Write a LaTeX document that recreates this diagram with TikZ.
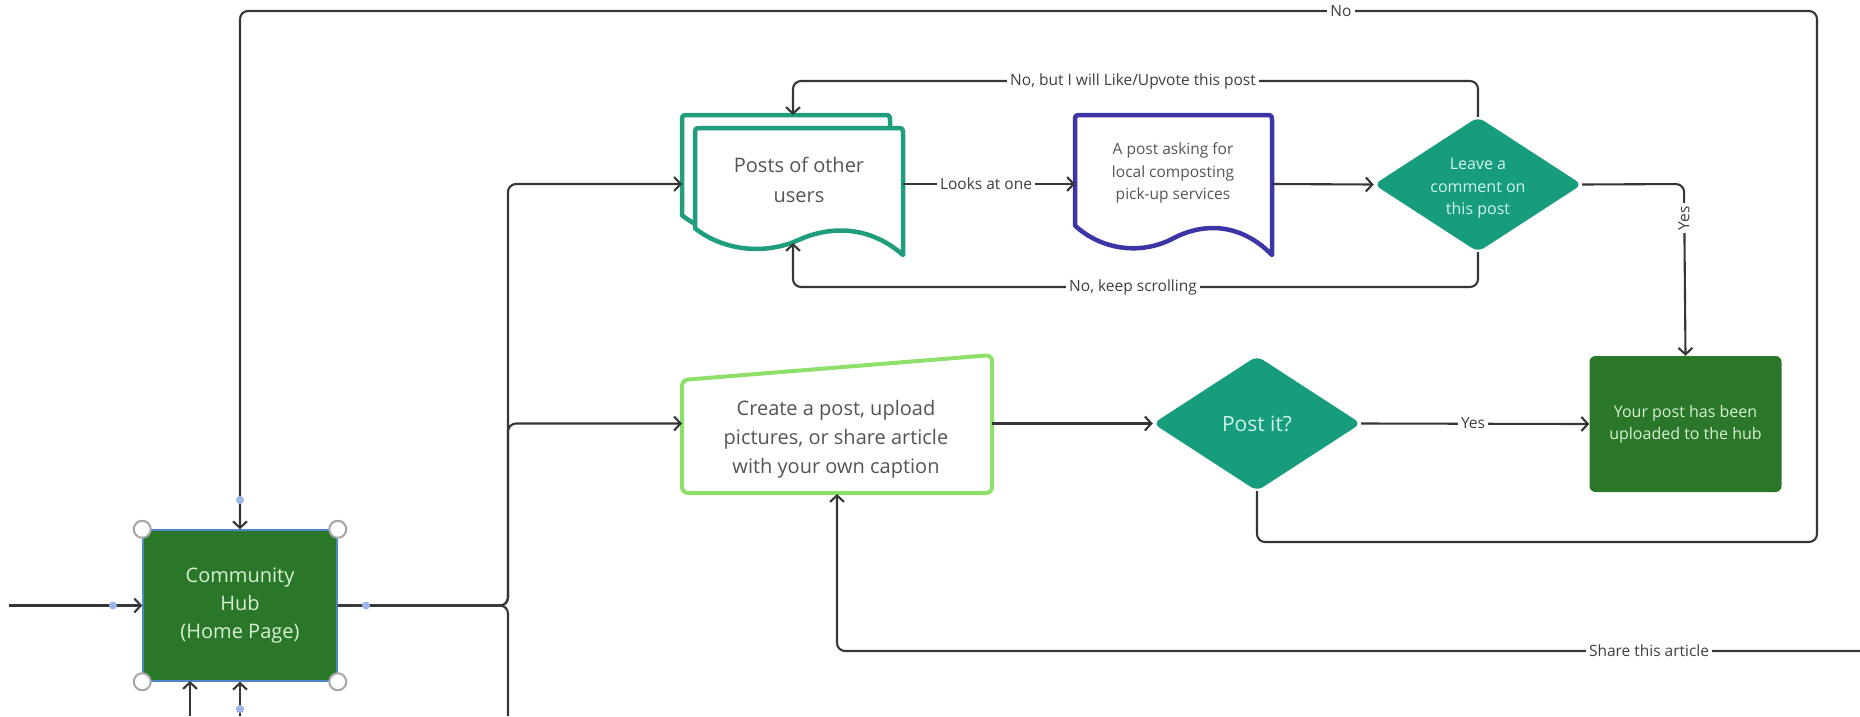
\documentclass[tikz,border=0pt]{standalone}
\usepackage{fontspec}
\setmainfont{Open Sans}
\usetikzlibrary{arrows.meta,shapes.geometric}
\definecolor{teal1}{HTML}{179C7E}
\definecolor{tealline}{HTML}{1F9D7D}
\definecolor{indig}{HTML}{3C35A6}
\definecolor{lgreen}{HTML}{8FE06B}
\definecolor{dgreen}{HTML}{2A772A}
\definecolor{conncol}{HTML}{363636}
\definecolor{lblcol}{HTML}{3F3F3F}
\definecolor{boxtxt}{HTML}{555555}
\definecolor{lighttxt}{HTML}{D8F0D2}
\definecolor{minttxt}{HTML}{D0F4E9}
\definecolor{selblue}{HTML}{4F86C6}
\definecolor{dotblue}{HTML}{9CB4EA}
\begin{document}
\begin{tikzpicture}[x=1pt,y=-1pt,
  conn/.style={draw=conncol, line width=2.1pt, rounded corners=8pt, -{Straight Barb[length=6.5pt,width=14pt]}},
  plainline/.style={draw=conncol, line width=2.1pt, rounded corners=8pt},
  lab/.style={fill=white, text=lblcol, font=\fontsize{15.5}{18}\selectfont, inner sep=3pt},
  doctext/.style={text=boxtxt, align=center, inner sep=0pt},
  dia/.style={diamond, fill=teal1, draw=none, shape aspect=1.54, minimum width=208pt, minimum height=135pt, inner sep=0pt, rounded corners=7pt, text=minttxt, align=center},
  diatext/.style={text=minttxt, align=center, inner sep=0pt},
  greenbox/.style={rectangle, fill=dgreen, text=lighttxt, align=center, inner sep=0pt},
  handle/.style={circle, fill=white, draw=gray!70, line width=2pt, minimum size=17pt, inner sep=0pt},
  bluedot/.style={circle, fill=dotblue, draw=none, minimum size=8pt, inner sep=0pt}]
\useasboundingbox (0,0) rectangle (1860,716);

% ---- shapes ----
% back document
\filldraw[fill=white, draw=tealline, line width=4.5pt, line join=round]
 (682,215.3) -- (682,122) .. controls (682,115) .. (689,115) -- (883,115) .. controls (890,115) .. (890,122) -- (890,242)
 .. controls (852.6,209) and (811,215.3) .. (786,226.8)
 .. controls (752.7,242) and (711.1,238.2) .. (682,215.3) -- cycle;
% front document
\filldraw[fill=white, draw=tealline, line width=4.5pt, line join=round]
 (695,228.3) -- (695,135) .. controls (695,128) .. (702,128) -- (896,128) .. controls (903,128) .. (903,135) -- (903,255)
 .. controls (865.6,222) and (824,228.3) .. (799,239.8)
 .. controls (765.7,255) and (724.1,251.2) .. (695,228.3) -- cycle;
\node[doctext, font=\fontsize{20}{30}\selectfont] (posts) at (799,180) {Posts of other\\users};
% request document
\filldraw[fill=white, draw=indig, line width=4.5pt, line join=round]
 (1075,225.6) -- (1075,122) .. controls (1075,115) .. (1082,115) -- (1265,115) .. controls (1272,115) .. (1272,122) -- (1272,255)
 .. controls (1236.5,218.6) and (1197.1,225.6) .. (1173.5,238.2)
 .. controls (1142,255) and (1102.6,250.8) .. (1075,225.6) -- cycle;
\node[doctext, font=\fontsize{15.5}{22.5}\selectfont] (req) at (1173,173) {A post asking for\\local composting\\pick-up services};
% create (manual input)
\filldraw[fill=white, draw=lgreen, line width=4pt, rounded corners=6pt] (682,380) -- (992,355) -- (992,493) -- (682,493) -- cycle;
\node[doctext, font=\fontsize{20}{29}\selectfont] (create) at (836,439) {Create a post, upload\\pictures, or share article\\with your own caption};
% diamonds
\node[dia] (leave) at (1478,184.5) {};
\node[diatext, font=\fontsize{16}{22.5}\selectfont] (leavetext) at (1478,188.5) {Leave a\\comment on\\this post};
\node[dia, font=\fontsize{21}{25}\selectfont] (postit) at (1257,423.5) {Post it?};
% green boxes
\node[greenbox, rounded corners=6pt, minimum width=192pt, minimum height=136pt, font=\fontsize{16}{22}\selectfont] (done) at (1685.5,424) {Your post has been\\uploaded to the hub};
\node[greenbox, draw=selblue, line width=1.5pt, minimum width=194pt, minimum height=151pt, font=\fontsize{20}{28}\selectfont] (hub) at (240,605.5) {Community\\Hub\\(Home Page)};

% ---- coordinates ----
\coordinate (inL) at (9,605.5);
\coordinate (trunk) at (508,605.5);
\coordinate (trunkend) at (508,716);
\coordinate (postsW) at (682,184);
\coordinate (postsE) at (903,184);
\coordinate (postsTop) at (793,115);
\coordinate (postsBot) at (793,243);
\coordinate (reqW) at (1075,184);
\coordinate (reqE) at (1272,184);
\coordinate (createW) at (682,423.5);
\coordinate (createE) at (992,423.5);
\coordinate (createS) at (837,494);
\coordinate (shareR) at (1860,651);
\coordinate (botA) at (190,716);
\coordinate (botB) at (240,716);
\coordinate (hubSA) at (190,681);

% ---- connectors ----
\draw[conn] (inL) -- (hub.west);
\draw[conn] (botA) -- (hubSA);
\draw[conn] (botB) -- (hub.south);
\draw[conn] (hub.east) -- (trunk) |- (postsW);
\draw[conn] (hub.east) -- (trunk) |- (createW);
\draw[plainline] (hub.east) -- (trunk) -- (trunkend);
\draw[conn] (postsE) -- (reqW);
\draw[conn] (reqE) -- (leave.west);
\draw[conn] (leave.north) -- (1478,81) -- (793,81) -- (postsTop);
\draw[conn] (leave.south) -- (1478,287) -- (793,287) -- (postsBot);
\draw[conn] (leave.east) -- (1684,184) -- (done.north);
\draw[conn] (createE) -- (postit.west);
\draw[conn] (postit.east) -- (done.west);
\draw[conn] (postit.south) -- (1257,542) -- (1817,542) -- (1817,11) -- (240,11) -- (hub.north);
\draw[conn] (shareR) -- (837,651) -- (createS);

% ---- labels ----
\node[lab] at (986,184) {Looks at one};
\node[lab] at (1133,81) {No, but I will Like/Upvote this post};
\node[lab] at (1133,287) {No, keep scrolling};
\node[lab, rotate=90] at (1684,218) {Yes};
\node[lab] at (1473,423.5) {Yes};
\node[lab] at (1341,11) {No};
\node[lab] at (1649,651) {Share this article};

% ---- selection handles on hub ----
\node[handle] at (hub.north west) {};
\node[handle] at (hub.north east) {};
\node[handle] at (hub.south west) {};
\node[handle] at (hub.south east) {};
\node[bluedot] at (113,605.5) {};
\node[bluedot] at (366,605.5) {};
\node[bluedot] at (240,500) {};
\node[bluedot] at (240,709) {};
\end{tikzpicture}
\end{document}
